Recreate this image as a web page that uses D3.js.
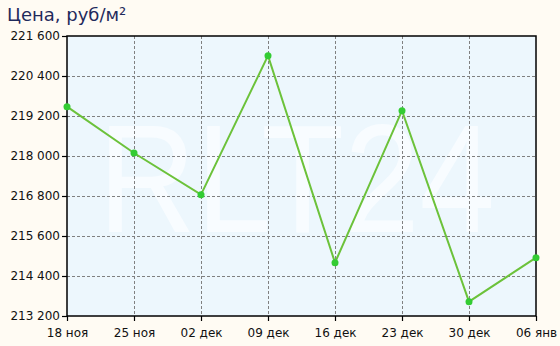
<!DOCTYPE html>
<html>
<head>
<meta charset="utf-8">
<script src="https://cdn.jsdelivr.net/npm/d3@7"></script>
<style>
  body { margin: 0; background: #fffbf3; }
  svg { display: block; font-family: "DejaVu Sans", Verdana, sans-serif; }
</style>
</head>
<body>
<div id="chart"></div>
<script>
// data
const dates = ["18 ноя", "25 ноя", "02 дек", "09 дек", "16 дек", "23 дек", "30 дек", "06 янв"];
const prices = [219480, 218090, 216840, 221010, 214800, 219360, 213630, 214950];
const yTicks = [213200, 214400, 215600, 216800, 218000, 219200, 220400, 221600];

const width = 560, height = 346;
const margin = { top: 36, right: 24, bottom: 30, left: 67 };
const w = width - margin.left - margin.right;
const h = height - margin.top - margin.bottom;

const svg = d3.select("#chart").append("svg")
    .attr("width", width)
    .attr("height", height);

svg.append("text")
    .attr("x", 7)
    .attr("y", 21)
    .attr("fill", "#1f2a5c")
    .attr("font-size", 18)
    .text("Цена, руб/м²");

const g = svg.append("g")
    .attr("transform", `translate(${margin.left},${margin.top})`);

const x = d3.scalePoint().domain(dates).range([0, w]);
const y = d3.scaleLinear().domain([213200, 221600]).range([h, 0]);

g.append("rect")
    .attr("width", w).attr("height", h)
    .attr("fill", "#edf7fd");

// watermark
g.append("text")
    .attr("x", 31)
    .attr("y", 196)
    .attr("textLength", 397)
    .attr("lengthAdjust", "spacingAndGlyphs")
    .attr("font-size", 154)
    .attr("font-family", "Liberation Sans, Arial, sans-serif")
    .attr("fill", "#f8fcff")
    .text("RLT24");

// grid
g.selectAll(".hgrid")
    .data(yTicks.slice(1, -1))
    .enter().append("line")
    .attr("x1", 0).attr("x2", w)
    .attr("y1", d => Math.round(y(d)) + 0.5)
    .attr("y2", d => Math.round(y(d)) + 0.5)
    .attr("stroke", "#808080")
    .attr("stroke-dasharray", "3,2");

g.selectAll(".vgrid")
    .data(dates.slice(1, -1))
    .enter().append("line")
    .attr("y1", 0).attr("y2", h)
    .attr("x1", d => Math.round(x(d)) + 0.5)
    .attr("x2", d => Math.round(x(d)) + 0.5)
    .attr("stroke", "#808080")
    .attr("stroke-dasharray", "3,2");

// frame
g.append("rect")
    .attr("width", w).attr("height", h)
    .attr("fill", "none")
    .attr("stroke", "#000")
    .attr("stroke-width", 1.5);

const fmt = d => d3.format(",")(d).replace(",", " ");

const yAxis = g.append("g")
    .call(d3.axisLeft(y).tickValues(yTicks).tickFormat(fmt).tickSize(5).tickPadding(2));
const xAxis = g.append("g")
    .attr("transform", `translate(0,${h})`)
    .call(d3.axisBottom(x).tickSize(5).tickPadding(7));

[yAxis, xAxis].forEach(a => {
    a.select(".domain").remove();
    a.selectAll("line").attr("stroke", "#000").attr("stroke-width", 1.2);
    a.selectAll("text")
        .attr("fill", "#111")
        .attr("font-size", 12)
        .attr("font-family", "DejaVu Sans, Verdana, sans-serif");
});

const line = d3.line()
    .x((d, i) => x(dates[i]))
    .y(d => y(d));

g.append("path")
    .datum(prices)
    .attr("d", line)
    .attr("fill", "none")
    .attr("stroke", "#6cc23a")
    .attr("stroke-width", 2);

g.selectAll(".pt")
    .data(prices)
    .enter().append("circle")
    .attr("cx", (d, i) => x(dates[i]))
    .attr("cy", d => y(d))
    .attr("r", 3.5)
    .attr("fill", "#33cc33");
</script>
</body>
</html>
